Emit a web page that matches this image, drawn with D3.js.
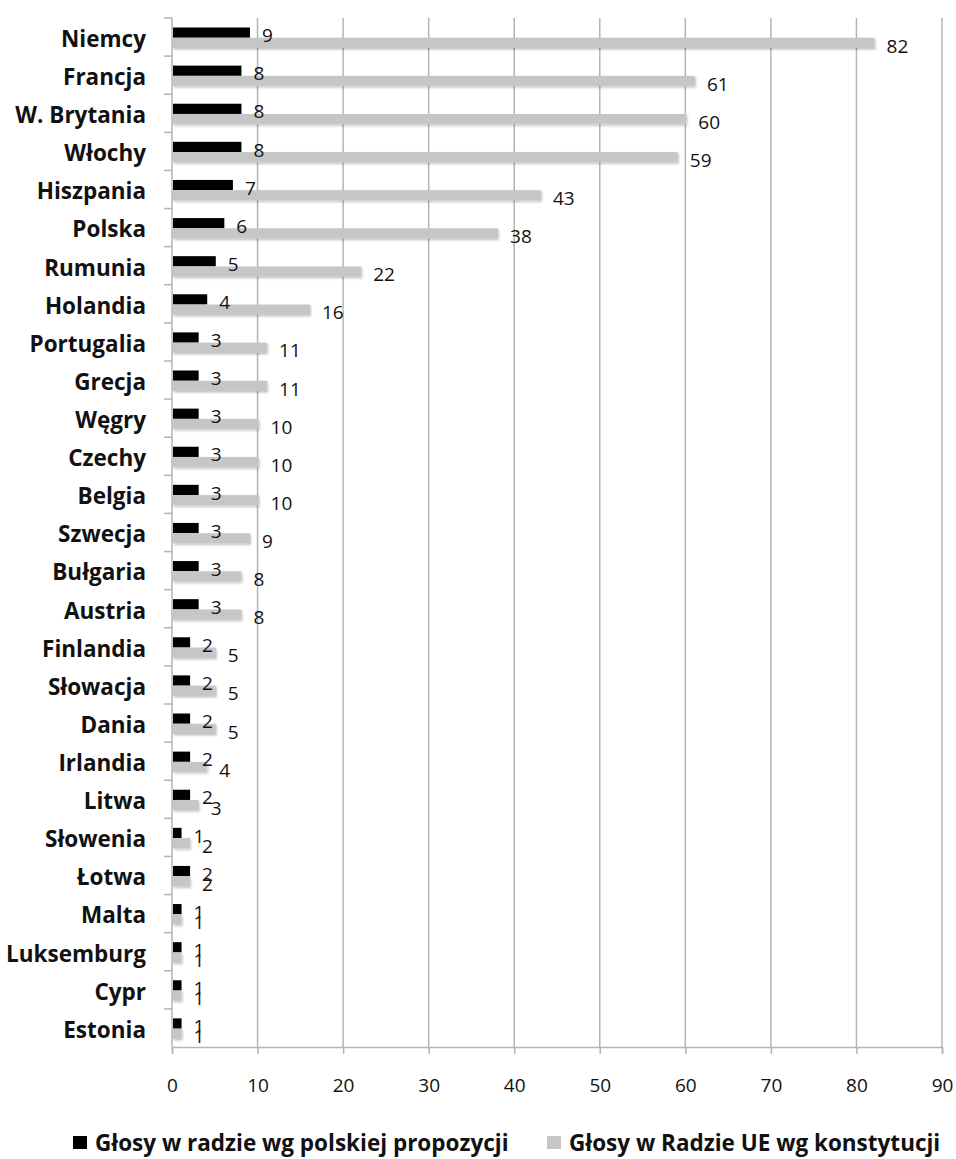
<!DOCTYPE html>
<html>
<head>
<meta charset="utf-8">
<script src="https://cdn.jsdelivr.net/npm/d3@7"></script>
<style>
  body { margin: 0; background: #fff; }
  svg text { font-family: "Open Sans", Lato, sans-serif; fill: #111; }
</style>
</head>
<body>
<svg id="chart" width="956" height="1159"></svg>
<script>
const countries = ["Niemcy", "Francja", "W. Brytania", "Włochy", "Hiszpania", "Polska", "Rumunia",
  "Holandia", "Portugalia", "Grecja", "Węgry", "Czechy", "Belgia", "Szwecja", "Bułgaria", "Austria",
  "Finlandia", "Słowacja", "Dania", "Irlandia", "Litwa", "Słowenia", "Łotwa", "Malta", "Luksemburg",
  "Cypr", "Estonia"];
const polishProposal = [9, 8, 8, 8, 7, 6, 5, 4, 3, 3, 3, 3, 3, 3, 3, 3, 2, 2, 2, 2, 2, 1, 2, 1, 1, 1, 1];
const constitution = [82, 61, 60, 59, 43, 38, 22, 16, 11, 11, 10, 10, 10, 9, 8, 8, 5, 5, 5, 4, 3, 2, 2, 1, 1, 1, 1];
const seriesNames = ["Głosy w radzie wg polskiej propozycji", "Głosy w Radzie UE wg konstytucji"];
const tickValues = [0, 10, 20, 30, 40, 50, 60, 70, 80, 90];

const colors = ["#000000", "#c6c6c6"];
const plotLeft = 172, plotRight = 942, plotTop = 18, plotBottom = 1047;

const svg = d3.select("#chart");

const defs = svg.append("defs");
defs.append("filter").attr("id", "shadow")
  .attr("x", "-10%").attr("y", "-50%").attr("width", "130%").attr("height", "220%")
  .append("feDropShadow")
  .attr("dx", 1).attr("dy", 1.5).attr("stdDeviation", 1.2)
  .attr("flood-color", "#000").attr("flood-opacity", 0.25);

const x = d3.scaleLinear().domain([0, 90]).range([plotLeft, plotRight]);
const y = d3.scaleBand().domain(countries).range([plotTop, plotBottom]);
const sub = d3.scaleBand().domain([0, 1]).range([9.5, 30]);

// siatka
svg.append("g")
  .selectAll("line")
  .data(tickValues.slice(1))
  .enter()
  .append("line")
  .attr("x1", d => x(d)).attr("x2", d => x(d))
  .attr("y1", plotTop).attr("y2", plotBottom)
  .attr("stroke", "#b4b4b4").attr("stroke-width", 1.5);

// oś pozioma
const xAxis = svg.append("g")
  .attr("transform", `translate(0,${plotBottom})`)
  .call(d3.axisBottom(x).tickValues(tickValues).tickSize(7).tickPadding(25));
xAxis.select(".domain").attr("stroke", "#b4b4b4").attr("stroke-width", 1.5);
xAxis.selectAll(".tick line").attr("stroke", "#b4b4b4").attr("stroke-width", 1.5);
xAxis.selectAll(".tick text")
  .style("font-size", "19px").attr("fill", "#222");

// oś pionowa
svg.append("line")
  .attr("x1", plotLeft).attr("x2", plotLeft).attr("y1", plotTop).attr("y2", plotBottom)
  .attr("stroke", "#b4b4b4").attr("stroke-width", 1.5);
svg.append("g")
  .selectAll("line")
  .data(countries)
  .enter()
  .append("line")
  .attr("x1", plotLeft - 8).attr("x2", plotLeft)
  .attr("y1", d => y(d)).attr("y2", d => y(d))
  .attr("stroke", "#b4b4b4").attr("stroke-width", 1.5);

// etykiety krajów
svg.append("g")
  .selectAll("text")
  .data(countries)
  .enter()
  .append("text")
  .attr("x", 146)
  .attr("y", d => y(d) + y.bandwidth() / 2 + 2)
  .attr("dy", "0.35em")
  .attr("text-anchor", "end")
  .style("font-size", "22.5px")
  .style("font-weight", "bold")
  .text(d => d);

// słupki
const series = [polishProposal, constitution];
series.forEach((vals, s) => {
  const g = svg.append("g");
  g.selectAll("rect")
    .data(vals)
    .enter()
    .append("rect")
    .attr("x", x(0) + 1)
    .attr("y", (d, i) => y(countries[i]) + sub(s))
    .attr("width", d => x(d) - x(0))
    .attr("height", sub.bandwidth())
    .attr("fill", colors[s])
    .attr("filter", s === 1 ? "url(#shadow)" : null);
});

// etykiety wartości
series.forEach((vals, s) => {
  svg.append("g")
    .selectAll("text")
    .data(vals)
    .enter()
    .append("text")
    .attr("x", d => x(d) + 13)
    .attr("y", (d, i) => y(countries[i]) + sub(s) + sub.bandwidth() / 2 + 3)
    .attr("dy", "0.35em")
    .style("font-size", "19px")
    .attr("fill", "#222")
    .text(d => d);
});

// legenda
const legendX = [73, 547];
const legend = svg.append("g");
seriesNames.forEach((name, s) => {
  legend.append("rect")
    .attr("x", legendX[s]).attr("y", 1136)
    .attr("width", 14).attr("height", 13)
    .attr("fill", colors[s]);
  legend.append("text")
    .attr("x", legendX[s] + 22).attr("y", 1143)
    .attr("dy", "0.35em")
    .style("font-size", "22.5px")
    .style("font-weight", "bold")
    .text(name);
});
</script>
</body>
</html>
